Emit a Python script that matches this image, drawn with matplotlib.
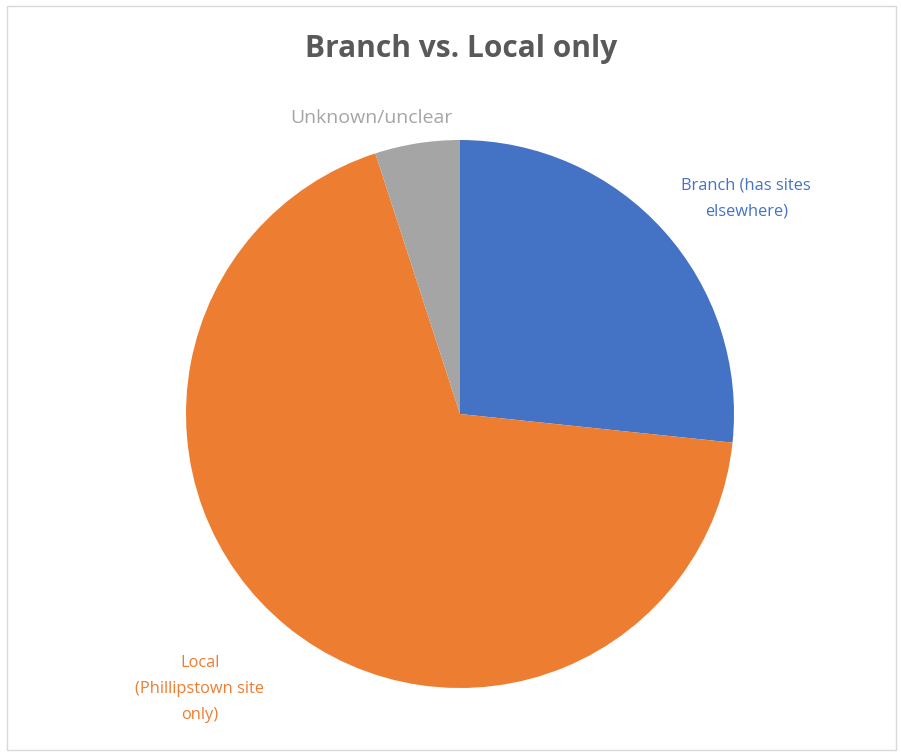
import matplotlib
matplotlib.use("Agg")
import matplotlib.pyplot as plt
from matplotlib.patches import Rectangle

# Organisation type counts
categories = ["Branch (has sites\nelsewhere)", "Local\n(Phillipstown site\nonly)", "Unknown/unclear"]
counts = [16, 41, 3]
colors = ["#4472C4", "#ED7D31", "#A5A5A5"]
title = "Branch vs. Local only"

plt.rcParams['font.family'] = ['Open Sans', 'DejaVu Sans']

W, H = 901, 753
fig = plt.figure(figsize=(W / 100, H / 100), dpi=100)
fig.patch.set_facecolor("white")

# Thin chart-area border
fig.add_artist(Rectangle((7 / W, 3 / H), (W - 12) / W, (H - 9) / H,
                         transform=fig.transFigure, fill=False,
                         edgecolor="#D9D9D9", linewidth=1.0))

cx, cy, r = 460, 414, 274
ax = fig.add_axes([(cx - r) / W, (H - cy - r) / H, 2 * r / W, 2 * r / H])
wedges, _ = ax.pie(counts, colors=colors, startangle=90, counterclock=False,
                   radius=1.0, wedgeprops=dict(linewidth=0))
ax.set_xlim(-1, 1)
ax.set_ylim(-1, 1)
ax.set_aspect("equal")
ax.axis("off")

label_pos = [(1.045, 0.787), (-0.949, -1.004), (-0.325, 1.081)]
label_colors = ["#4472C4", "#ED7D31", "#A5A5A5"]
label_sizes = [11.8, 11.8, 14]
for text, (x, y), c, s in zip(categories, label_pos, label_colors, label_sizes):
    ax.text(x, y, text, ha="center", va="center", fontsize=s, color=c,
            linespacing=1.8, clip_on=False)

fig.text(461 / W, 1 - 49 / H, title, ha="center", va="center",
         fontsize=21.5, fontweight="bold", color="#595959")

fig.savefig("out.png", dpi=100, facecolor="white")
